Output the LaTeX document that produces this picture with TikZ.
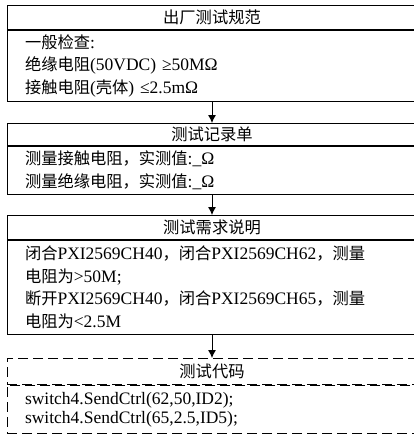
\documentclass[tikz,border=0pt]{standalone}
\usepackage{fontspec}
\setmainfont{Liberation Serif}
\newfontfamily\cjk{Noto Sans CJK SC}[Scale=0.93]
\usepackage{tikz}
\usetikzlibrary{positioning}
\usetikzlibrary{arrows.meta}
\tikzset{>={Latex[length=8pt,width=8pt]}}
\tikzset{
  hdr/.style={draw, line width=0.9pt, minimum width=410pt, inner sep=0pt, anchor=north,
    font=\fontsize{17.5}{22.5}\selectfont},
  body/.style={draw, line width=0.9pt, text width=374pt, inner xsep=18pt, inner ysep=0pt,
    align=left, font=\fontsize{17.5}{22.5}\selectfont},
  codebox/.style={dash pattern=on 10pt off 5pt}
}

\begin{document}
\begin{tikzpicture}[x=1pt, y=1pt]
      \useasboundingbox (0,0) rectangle (414,-436);
      % factory test specification
      \node[hdr, minimum height=24pt] (spec) at (212,-5) {\cjk 出厂测试规范};
      \node[body, minimum height=71pt, below=0pt of spec] (specbody)
        {{\cjk 一般检查}:\\
         {\cjk 绝缘电阻}(50VDC) ≥50MΩ\\
         {\cjk 接触电阻}({\cjk 壳体}) ≤2.5mΩ};
      % test record
      \node[hdr, minimum height=22pt] (record) at (212,-123) {\cjk 测试记录单};
      \node[body, minimum height=48pt, below=0pt of record] (recordbody)
        {{\cjk 测量接触电阻，实测值}:\_Ω\\
         {\cjk 测量绝缘电阻，实测值}:\_Ω};
      % test requirements
      \node[hdr, minimum height=24pt] (req) at (212,-215) {\cjk 测试需求说明};
      \node[body, minimum height=94pt, below=0pt of req] (reqbody)
        {{\cjk 闭合}PXI2569CH40{\cjk ，闭合}PXI2569CH62{\cjk ，测量}\\
         {\cjk 电阻为}>50M;\\
         {\cjk 断开}PXI2569CH40{\cjk ，闭合}PXI2569CH65{\cjk ，测量}\\
         {\cjk 电阻为}<2.5M};
      % test code
      \node[hdr, codebox, minimum height=26pt] (code) at (212,-358) {\cjk 测试代码};
      \node[body, codebox, minimum height=48pt, below=0pt of code,
        font=\fontsize{17.5}{19}\selectfont] (codebody)
        {switch4.SendCtrl(62,50,ID2);\\
         switch4.SendCtrl(65,2.5,ID5);};
      \draw[->, line width=0.9pt] (specbody) -- (record);
      \draw[->, line width=0.9pt] (recordbody) -- (req);
      \draw[->, line width=0.9pt] (reqbody) -- (code);
    \end{tikzpicture}
\end{document}
